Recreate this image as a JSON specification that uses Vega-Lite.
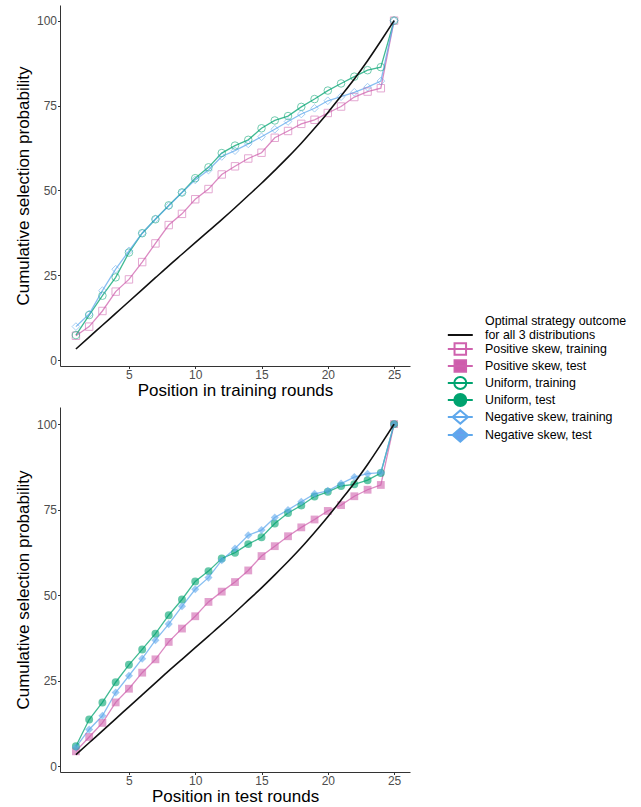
{
  "$schema": "https://vega.github.io/schema/vega-lite/v6.json",
  "padding": {"left": 14, "top": 5, "right": 0, "bottom": 0},
  "background": "white",
  "spacing": 8,
  "config": {
    "font": "Liberation Sans",
    "view": {"stroke": null},
    "axis": {
      "grid": false,
      "domainColor": "#333333",
      "tickColor": "#333333",
      "tickSize": 2.5,
      "labelPadding": 1,
      "labelColor": "#4d4d4d",
      "labelFont": "Liberation Sans",
      "labelFontSize": 12,
      "titleFont": "Liberation Sans",
      "titleFontSize": 17,
      "titleFontWeight": "normal",
      "titleColor": "#000000"
    },
    "axisX": {"titlePadding": 2},
    "axisY": {"titlePadding": 4}
  },
  "datasets": {
    "opt": [
      {"round": 1, "prob": 3.3, "series": "Optimal"},
      {"round": 2, "prob": 6.8, "series": "Optimal"},
      {"round": 3, "prob": 10.3, "series": "Optimal"},
      {"round": 4, "prob": 13.8, "series": "Optimal"},
      {"round": 5, "prob": 17.3, "series": "Optimal"},
      {"round": 6, "prob": 20.8, "series": "Optimal"},
      {"round": 7, "prob": 24.3, "series": "Optimal"},
      {"round": 8, "prob": 27.8, "series": "Optimal"},
      {"round": 9, "prob": 31.2, "series": "Optimal"},
      {"round": 10, "prob": 34.6, "series": "Optimal"},
      {"round": 11, "prob": 38.0, "series": "Optimal"},
      {"round": 12, "prob": 41.4, "series": "Optimal"},
      {"round": 13, "prob": 44.9, "series": "Optimal"},
      {"round": 14, "prob": 48.5, "series": "Optimal"},
      {"round": 15, "prob": 52.1, "series": "Optimal"},
      {"round": 16, "prob": 55.9, "series": "Optimal"},
      {"round": 17, "prob": 59.8, "series": "Optimal"},
      {"round": 18, "prob": 63.9, "series": "Optimal"},
      {"round": 19, "prob": 68.3, "series": "Optimal"},
      {"round": 20, "prob": 72.9, "series": "Optimal"},
      {"round": 21, "prob": 77.8, "series": "Optimal"},
      {"round": 22, "prob": 82.8, "series": "Optimal"},
      {"round": 23, "prob": 88.2, "series": "Optimal"},
      {"round": 24, "prob": 94.0, "series": "Optimal"},
      {"round": 25, "prob": 100, "series": "Optimal"}
    ],
    "train": [
      {"round": 1, "prob": 7.2, "series": "Positive skew, training"},
      {"round": 2, "prob": 9.9, "series": "Positive skew, training"},
      {"round": 3, "prob": 14.5, "series": "Positive skew, training"},
      {"round": 4, "prob": 20.2, "series": "Positive skew, training"},
      {"round": 5, "prob": 23.8, "series": "Positive skew, training"},
      {"round": 6, "prob": 28.9, "series": "Positive skew, training"},
      {"round": 7, "prob": 34.4, "series": "Positive skew, training"},
      {"round": 8, "prob": 39.8, "series": "Positive skew, training"},
      {"round": 9, "prob": 43.1, "series": "Positive skew, training"},
      {"round": 10, "prob": 47.4, "series": "Positive skew, training"},
      {"round": 11, "prob": 50.4, "series": "Positive skew, training"},
      {"round": 12, "prob": 54.7, "series": "Positive skew, training"},
      {"round": 13, "prob": 57.1, "series": "Positive skew, training"},
      {"round": 14, "prob": 59.4, "series": "Positive skew, training"},
      {"round": 15, "prob": 61.1, "series": "Positive skew, training"},
      {"round": 16, "prob": 65.5, "series": "Positive skew, training"},
      {"round": 17, "prob": 67.5, "series": "Positive skew, training"},
      {"round": 18, "prob": 69.6, "series": "Positive skew, training"},
      {"round": 19, "prob": 70.8, "series": "Positive skew, training"},
      {"round": 20, "prob": 72.8, "series": "Positive skew, training"},
      {"round": 21, "prob": 74.7, "series": "Positive skew, training"},
      {"round": 22, "prob": 77.5, "series": "Positive skew, training"},
      {"round": 23, "prob": 79.1, "series": "Positive skew, training"},
      {"round": 24, "prob": 80.1, "series": "Positive skew, training"},
      {"round": 25, "prob": 100, "series": "Positive skew, training"},
      {"round": 1, "prob": 7.4, "series": "Uniform, training"},
      {"round": 2, "prob": 13.3, "series": "Uniform, training"},
      {"round": 3, "prob": 19.0, "series": "Uniform, training"},
      {"round": 4, "prob": 24.4, "series": "Uniform, training"},
      {"round": 5, "prob": 31.7, "series": "Uniform, training"},
      {"round": 6, "prob": 37.4, "series": "Uniform, training"},
      {"round": 7, "prob": 41.5, "series": "Uniform, training"},
      {"round": 8, "prob": 45.6, "series": "Uniform, training"},
      {"round": 9, "prob": 49.4, "series": "Uniform, training"},
      {"round": 10, "prob": 53.6, "series": "Uniform, training"},
      {"round": 11, "prob": 56.8, "series": "Uniform, training"},
      {"round": 12, "prob": 61.0, "series": "Uniform, training"},
      {"round": 13, "prob": 63.2, "series": "Uniform, training"},
      {"round": 14, "prob": 64.9, "series": "Uniform, training"},
      {"round": 15, "prob": 68.3, "series": "Uniform, training"},
      {"round": 16, "prob": 70.6, "series": "Uniform, training"},
      {"round": 17, "prob": 71.9, "series": "Uniform, training"},
      {"round": 18, "prob": 74.6, "series": "Uniform, training"},
      {"round": 19, "prob": 76.9, "series": "Uniform, training"},
      {"round": 20, "prob": 79.4, "series": "Uniform, training"},
      {"round": 21, "prob": 81.5, "series": "Uniform, training"},
      {"round": 22, "prob": 83.5, "series": "Uniform, training"},
      {"round": 23, "prob": 85.4, "series": "Uniform, training"},
      {"round": 24, "prob": 86.3, "series": "Uniform, training"},
      {"round": 25, "prob": 100, "series": "Uniform, training"},
      {"round": 1, "prob": 9.9, "series": "Negative skew, training"},
      {"round": 2, "prob": 13.6, "series": "Negative skew, training"},
      {"round": 3, "prob": 20.5, "series": "Negative skew, training"},
      {"round": 4, "prob": 26.8, "series": "Negative skew, training"},
      {"round": 5, "prob": 32.2, "series": "Negative skew, training"},
      {"round": 6, "prob": 37.4, "series": "Negative skew, training"},
      {"round": 7, "prob": 41.6, "series": "Negative skew, training"},
      {"round": 8, "prob": 45.4, "series": "Negative skew, training"},
      {"round": 9, "prob": 49.4, "series": "Negative skew, training"},
      {"round": 10, "prob": 53.1, "series": "Negative skew, training"},
      {"round": 11, "prob": 56.0, "series": "Negative skew, training"},
      {"round": 12, "prob": 60.0, "series": "Negative skew, training"},
      {"round": 13, "prob": 61.7, "series": "Negative skew, training"},
      {"round": 14, "prob": 63.7, "series": "Negative skew, training"},
      {"round": 15, "prob": 65.8, "series": "Negative skew, training"},
      {"round": 16, "prob": 68.0, "series": "Negative skew, training"},
      {"round": 17, "prob": 70.3, "series": "Negative skew, training"},
      {"round": 18, "prob": 72.5, "series": "Negative skew, training"},
      {"round": 19, "prob": 74.2, "series": "Negative skew, training"},
      {"round": 20, "prob": 76.4, "series": "Negative skew, training"},
      {"round": 21, "prob": 77.6, "series": "Negative skew, training"},
      {"round": 22, "prob": 78.9, "series": "Negative skew, training"},
      {"round": 23, "prob": 80.4, "series": "Negative skew, training"},
      {"round": 24, "prob": 82.2, "series": "Negative skew, training"},
      {"round": 25, "prob": 100, "series": "Negative skew, training"}
    ],
    "test": [
      {"round": 1, "prob": 4.3, "series": "Positive skew, test"},
      {"round": 2, "prob": 8.5, "series": "Positive skew, test"},
      {"round": 3, "prob": 12.6, "series": "Positive skew, test"},
      {"round": 4, "prob": 18.6, "series": "Positive skew, test"},
      {"round": 5, "prob": 22.6, "series": "Positive skew, test"},
      {"round": 6, "prob": 27.3, "series": "Positive skew, test"},
      {"round": 7, "prob": 31.2, "series": "Positive skew, test"},
      {"round": 8, "prob": 36.3, "series": "Positive skew, test"},
      {"round": 9, "prob": 40.2, "series": "Positive skew, test"},
      {"round": 10, "prob": 43.8, "series": "Positive skew, test"},
      {"round": 11, "prob": 48.0, "series": "Positive skew, test"},
      {"round": 12, "prob": 51.0, "series": "Positive skew, test"},
      {"round": 13, "prob": 53.8, "series": "Positive skew, test"},
      {"round": 14, "prob": 57.2, "series": "Positive skew, test"},
      {"round": 15, "prob": 61.4, "series": "Positive skew, test"},
      {"round": 16, "prob": 64.3, "series": "Positive skew, test"},
      {"round": 17, "prob": 67.2, "series": "Positive skew, test"},
      {"round": 18, "prob": 69.8, "series": "Positive skew, test"},
      {"round": 19, "prob": 72.1, "series": "Positive skew, test"},
      {"round": 20, "prob": 74.6, "series": "Positive skew, test"},
      {"round": 21, "prob": 76.3, "series": "Positive skew, test"},
      {"round": 22, "prob": 78.9, "series": "Positive skew, test"},
      {"round": 23, "prob": 80.8, "series": "Positive skew, test"},
      {"round": 24, "prob": 82.2, "series": "Positive skew, test"},
      {"round": 25, "prob": 100, "series": "Positive skew, test"},
      {"round": 1, "prob": 5.8, "series": "Uniform, test"},
      {"round": 2, "prob": 13.6, "series": "Uniform, test"},
      {"round": 3, "prob": 18.6, "series": "Uniform, test"},
      {"round": 4, "prob": 24.5, "series": "Uniform, test"},
      {"round": 5, "prob": 29.6, "series": "Uniform, test"},
      {"round": 6, "prob": 34.1, "series": "Uniform, test"},
      {"round": 7, "prob": 38.7, "series": "Uniform, test"},
      {"round": 8, "prob": 44.1, "series": "Uniform, test"},
      {"round": 9, "prob": 48.7, "series": "Uniform, test"},
      {"round": 10, "prob": 54.0, "series": "Uniform, test"},
      {"round": 11, "prob": 57.0, "series": "Uniform, test"},
      {"round": 12, "prob": 60.7, "series": "Uniform, test"},
      {"round": 13, "prob": 62.4, "series": "Uniform, test"},
      {"round": 14, "prob": 64.9, "series": "Uniform, test"},
      {"round": 15, "prob": 66.9, "series": "Uniform, test"},
      {"round": 16, "prob": 70.9, "series": "Uniform, test"},
      {"round": 17, "prob": 74.0, "series": "Uniform, test"},
      {"round": 18, "prob": 76.2, "series": "Uniform, test"},
      {"round": 19, "prob": 78.8, "series": "Uniform, test"},
      {"round": 20, "prob": 80.2, "series": "Uniform, test"},
      {"round": 21, "prob": 81.9, "series": "Uniform, test"},
      {"round": 22, "prob": 82.4, "series": "Uniform, test"},
      {"round": 23, "prob": 83.6, "series": "Uniform, test"},
      {"round": 24, "prob": 85.7, "series": "Uniform, test"},
      {"round": 25, "prob": 100, "series": "Uniform, test"},
      {"round": 1, "prob": 5.5, "series": "Negative skew, test"},
      {"round": 2, "prob": 10.7, "series": "Negative skew, test"},
      {"round": 3, "prob": 14.7, "series": "Negative skew, test"},
      {"round": 4, "prob": 21.5, "series": "Negative skew, test"},
      {"round": 5, "prob": 26.4, "series": "Negative skew, test"},
      {"round": 6, "prob": 31.4, "series": "Negative skew, test"},
      {"round": 7, "prob": 36.8, "series": "Negative skew, test"},
      {"round": 8, "prob": 41.5, "series": "Negative skew, test"},
      {"round": 9, "prob": 46.7, "series": "Negative skew, test"},
      {"round": 10, "prob": 51.7, "series": "Negative skew, test"},
      {"round": 11, "prob": 55.1, "series": "Negative skew, test"},
      {"round": 12, "prob": 60.2, "series": "Negative skew, test"},
      {"round": 13, "prob": 63.6, "series": "Negative skew, test"},
      {"round": 14, "prob": 67.5, "series": "Negative skew, test"},
      {"round": 15, "prob": 69.0, "series": "Negative skew, test"},
      {"round": 16, "prob": 72.7, "series": "Negative skew, test"},
      {"round": 17, "prob": 74.9, "series": "Negative skew, test"},
      {"round": 18, "prob": 77.3, "series": "Negative skew, test"},
      {"round": 19, "prob": 79.6, "series": "Negative skew, test"},
      {"round": 20, "prob": 80.5, "series": "Negative skew, test"},
      {"round": 21, "prob": 82.6, "series": "Negative skew, test"},
      {"round": 22, "prob": 84.5, "series": "Negative skew, test"},
      {"round": 23, "prob": 85.5, "series": "Negative skew, test"},
      {"round": 24, "prob": 85.8, "series": "Negative skew, test"},
      {"round": 25, "prob": 100, "series": "Negative skew, test"}
    ]
  },
  "vconcat": [
    {
      "width": 350,
      "height": 361,
      "data": {"name": "train"},
      "encoding": {
        "x": {"field": "round", "type": "quantitative", "scale": {"domain": [-0.2, 26.2], "nice": false, "zero": false}, "axis": {"values": [5, 10, 15, 20, 25], "title": "Position in training rounds"}},
        "y": {"field": "prob", "type": "quantitative", "scale": {"domain": [-1.7, 104.6], "nice": false, "zero": false}, "axis": {"values": [0, 25, 50, 75, 100], "title": "Cumulative selection probability"}}
      },
      "layer": [
        {
          "mark": {"type": "line", "strokeWidth": 1.3, "opacity": 0.75},
          "encoding": {
            "color": {
              "field": "series", "type": "nominal",
              "scale": {"domain": ["Optimal", "Positive skew, training", "Positive skew, test", "Uniform, training", "Uniform, test", "Negative skew, training", "Negative skew, test"], "range": ["#111111", "#CF62AE", "#CF62AE", "#00A370", "#00A370", "#5FA8EC", "#5FA8EC"]},
              "legend": {
                "title": null, "orient": "none", "legendX": 393.3, "legendY": 323,
                "padding": 0, "symbolSize": 144, "labelOffset": 17.7, "rowPadding": -6.8,
                "labelFont": "Liberation Sans", "labelFontSize": 12.4, "labelColor": "#000000", "labelLimit": 300,
                "labelExpr": "datum.label == 'Optimal' ? ['Optimal strategy outcome', 'for all 3 distributions'] : datum.label",
                "encode": {
                  "symbols": {
                    "update": {
                      "shape": {"signal": "datum.value == 'Optimal' ? 'M-2.08,0H2.08' : indexof(datum.value, 'Positive') == 0 ? 'M-2.08,0H2.08M-0.96,-0.96H0.96V0.96H-0.96Z' : indexof(datum.value, 'Uniform') == 0 ? 'M-2.08,0H2.08M-1,0A1,1,0,1,1,1,0A1,1,0,1,1,-1,0Z' : 'M-2.08,0H2.08M0,-1.1L1.28,0L0,1.1L-1.28,0Z'"},
                      "stroke": {"signal": "datum.value == 'Optimal' ? '#000000' : indexof(datum.value, 'Positive') == 0 ? '#CF5DAC' : indexof(datum.value, 'Uniform') == 0 ? '#00A36E' : '#66A0EE'"},
                      "fill": {"signal": "indexof(datum.value, 'test') < 0 ? 'transparent' : indexof(datum.value, 'Positive') == 0 ? '#CF5DAC' : indexof(datum.value, 'Uniform') == 0 ? '#00A36E' : '#66A0EE'"},
                      "strokeWidth": {"value": 2},
                      "opacity": {"value": 1},
                      "size": {"value": 144}
                    }
                  },
                  "labels": {
                    "update": {
                      "dy": {"signal": "datum.label == 'Optimal' ? -14 : 0"}
                    }
                  }
                }
              }
            }
          }
        },
        {
          "mark": {"type": "point", "filled": false, "strokeWidth": 1, "opacity": 0.55},
          "encoding": {
            "stroke": {"field": "series", "type": "nominal", "scale": {"domain": ["Positive skew, training", "Uniform, training", "Negative skew, training", "Positive skew, test", "Uniform, test", "Negative skew, test"], "range": ["#CF62AE", "#00A370", "#5FA8EC", "#CF62AE", "#00A370", "#5FA8EC"]}, "legend": null},
            "shape": {"field": "series", "type": "nominal", "scale": {"domain": ["Positive skew, training", "Uniform, training", "Negative skew, training", "Positive skew, test", "Uniform, test", "Negative skew, test"], "range": ["square", "circle", "diamond", "square", "circle", "diamond"]}, "legend": null},
            "size": {"field": "series", "type": "nominal", "scale": {"domain": ["Positive skew, training", "Uniform, training", "Negative skew, training", "Positive skew, test", "Uniform, test", "Negative skew, test"], "range": [55, 65, 95, 45, 55, 75]}, "legend": null}
          }
        },
        {
          "data": {"name": "opt"},
          "mark": {"type": "line", "strokeWidth": 1.6, "interpolate": "monotone"},
          "encoding": {
            "color": {
              "field": "series", "type": "nominal",
              "scale": {"domain": ["Optimal", "Positive skew, training", "Positive skew, test", "Uniform, training", "Uniform, test", "Negative skew, training", "Negative skew, test"], "range": ["#111111", "#CF62AE", "#CF62AE", "#00A370", "#00A370", "#5FA8EC", "#5FA8EC"]},
              "legend": {
                "title": null, "orient": "none", "legendX": 393.3, "legendY": 323,
                "padding": 0, "symbolSize": 144, "labelOffset": 17.7, "rowPadding": -6.8,
                "labelFont": "Liberation Sans", "labelFontSize": 12.4, "labelColor": "#000000", "labelLimit": 300,
                "labelExpr": "datum.label == 'Optimal' ? ['Optimal strategy outcome', 'for all 3 distributions'] : datum.label",
                "encode": {
                  "symbols": {
                    "update": {
                      "shape": {"signal": "datum.value == 'Optimal' ? 'M-2.08,0H2.08' : indexof(datum.value, 'Positive') == 0 ? 'M-2.08,0H2.08M-0.96,-0.96H0.96V0.96H-0.96Z' : indexof(datum.value, 'Uniform') == 0 ? 'M-2.08,0H2.08M-1,0A1,1,0,1,1,1,0A1,1,0,1,1,-1,0Z' : 'M-2.08,0H2.08M0,-1.1L1.28,0L0,1.1L-1.28,0Z'"},
                      "stroke": {"signal": "datum.value == 'Optimal' ? '#000000' : indexof(datum.value, 'Positive') == 0 ? '#CF5DAC' : indexof(datum.value, 'Uniform') == 0 ? '#00A36E' : '#66A0EE'"},
                      "fill": {"signal": "indexof(datum.value, 'test') < 0 ? 'transparent' : indexof(datum.value, 'Positive') == 0 ? '#CF5DAC' : indexof(datum.value, 'Uniform') == 0 ? '#00A36E' : '#66A0EE'"},
                      "strokeWidth": {"value": 2},
                      "opacity": {"value": 1},
                      "size": {"value": 144}
                    }
                  },
                  "labels": {
                    "update": {
                      "dy": {"signal": "datum.label == 'Optimal' ? -14 : 0"}
                    }
                  }
                }
              }
            }
          }
        }
      ]
    },
    {
      "width": 350,
      "height": 365,
      "data": {"name": "test"},
      "encoding": {
        "x": {"field": "round", "type": "quantitative", "scale": {"domain": [-0.2, 26.2], "nice": false, "zero": false}, "axis": {"values": [5, 10, 15, 20, 25], "title": "Position in test rounds"}},
        "y": {"field": "prob", "type": "quantitative", "scale": {"domain": [-1.75, 105.0], "nice": false, "zero": false}, "axis": {"values": [0, 25, 50, 75, 100], "title": "Cumulative selection probability"}}
      },
      "layer": [
        {
          "mark": {"type": "line", "strokeWidth": 1.3, "opacity": 0.75},
          "encoding": {
            "color": {
              "field": "series", "type": "nominal",
              "scale": {"domain": ["Optimal", "Positive skew, training", "Positive skew, test", "Uniform, training", "Uniform, test", "Negative skew, training", "Negative skew, test"], "range": ["#111111", "#CF62AE", "#CF62AE", "#00A370", "#00A370", "#5FA8EC", "#5FA8EC"]},
              "legend": {
                "title": null, "orient": "none", "legendX": 393.3, "legendY": 323,
                "padding": 0, "symbolSize": 144, "labelOffset": 17.7, "rowPadding": -6.8,
                "labelFont": "Liberation Sans", "labelFontSize": 12.4, "labelColor": "#000000", "labelLimit": 300,
                "labelExpr": "datum.label == 'Optimal' ? ['Optimal strategy outcome', 'for all 3 distributions'] : datum.label",
                "encode": {
                  "symbols": {
                    "update": {
                      "shape": {"signal": "datum.value == 'Optimal' ? 'M-2.08,0H2.08' : indexof(datum.value, 'Positive') == 0 ? 'M-2.08,0H2.08M-0.96,-0.96H0.96V0.96H-0.96Z' : indexof(datum.value, 'Uniform') == 0 ? 'M-2.08,0H2.08M-1,0A1,1,0,1,1,1,0A1,1,0,1,1,-1,0Z' : 'M-2.08,0H2.08M0,-1.1L1.28,0L0,1.1L-1.28,0Z'"},
                      "stroke": {"signal": "datum.value == 'Optimal' ? '#000000' : indexof(datum.value, 'Positive') == 0 ? '#CF5DAC' : indexof(datum.value, 'Uniform') == 0 ? '#00A36E' : '#66A0EE'"},
                      "fill": {"signal": "indexof(datum.value, 'test') < 0 ? 'transparent' : indexof(datum.value, 'Positive') == 0 ? '#CF5DAC' : indexof(datum.value, 'Uniform') == 0 ? '#00A36E' : '#66A0EE'"},
                      "strokeWidth": {"value": 2},
                      "opacity": {"value": 1},
                      "size": {"value": 144}
                    }
                  },
                  "labels": {
                    "update": {
                      "dy": {"signal": "datum.label == 'Optimal' ? -14 : 0"}
                    }
                  }
                }
              }
            }
          }
        },
        {
          "mark": {"type": "point", "filled": true, "opacity": 0.6},
          "encoding": {
            "fill": {"field": "series", "type": "nominal", "scale": {"domain": ["Positive skew, training", "Uniform, training", "Negative skew, training", "Positive skew, test", "Uniform, test", "Negative skew, test"], "range": ["#CF62AE", "#00A370", "#5FA8EC", "#CF62AE", "#00A370", "#5FA8EC"]}, "legend": null},
            "shape": {"field": "series", "type": "nominal", "scale": {"domain": ["Positive skew, training", "Uniform, training", "Negative skew, training", "Positive skew, test", "Uniform, test", "Negative skew, test"], "range": ["square", "circle", "diamond", "square", "circle", "diamond"]}, "legend": null},
            "size": {"field": "series", "type": "nominal", "scale": {"domain": ["Positive skew, training", "Uniform, training", "Negative skew, training", "Positive skew, test", "Uniform, test", "Negative skew, test"], "range": [55, 65, 95, 45, 55, 75]}, "legend": null}
          }
        },
        {
          "data": {"name": "opt"},
          "mark": {"type": "line", "strokeWidth": 1.6, "interpolate": "monotone"},
          "encoding": {
            "color": {
              "field": "series", "type": "nominal",
              "scale": {"domain": ["Optimal", "Positive skew, training", "Positive skew, test", "Uniform, training", "Uniform, test", "Negative skew, training", "Negative skew, test"], "range": ["#111111", "#CF62AE", "#CF62AE", "#00A370", "#00A370", "#5FA8EC", "#5FA8EC"]},
              "legend": {
                "title": null, "orient": "none", "legendX": 393.3, "legendY": 323,
                "padding": 0, "symbolSize": 144, "labelOffset": 17.7, "rowPadding": -6.8,
                "labelFont": "Liberation Sans", "labelFontSize": 12.4, "labelColor": "#000000", "labelLimit": 300,
                "labelExpr": "datum.label == 'Optimal' ? ['Optimal strategy outcome', 'for all 3 distributions'] : datum.label",
                "encode": {
                  "symbols": {
                    "update": {
                      "shape": {"signal": "datum.value == 'Optimal' ? 'M-2.08,0H2.08' : indexof(datum.value, 'Positive') == 0 ? 'M-2.08,0H2.08M-0.96,-0.96H0.96V0.96H-0.96Z' : indexof(datum.value, 'Uniform') == 0 ? 'M-2.08,0H2.08M-1,0A1,1,0,1,1,1,0A1,1,0,1,1,-1,0Z' : 'M-2.08,0H2.08M0,-1.1L1.28,0L0,1.1L-1.28,0Z'"},
                      "stroke": {"signal": "datum.value == 'Optimal' ? '#000000' : indexof(datum.value, 'Positive') == 0 ? '#CF5DAC' : indexof(datum.value, 'Uniform') == 0 ? '#00A36E' : '#66A0EE'"},
                      "fill": {"signal": "indexof(datum.value, 'test') < 0 ? 'transparent' : indexof(datum.value, 'Positive') == 0 ? '#CF5DAC' : indexof(datum.value, 'Uniform') == 0 ? '#00A36E' : '#66A0EE'"},
                      "strokeWidth": {"value": 2},
                      "opacity": {"value": 1},
                      "size": {"value": 144}
                    }
                  },
                  "labels": {
                    "update": {
                      "dy": {"signal": "datum.label == 'Optimal' ? -14 : 0"}
                    }
                  }
                }
              }
            }
          }
        }
      ]
    }
  ]
}
